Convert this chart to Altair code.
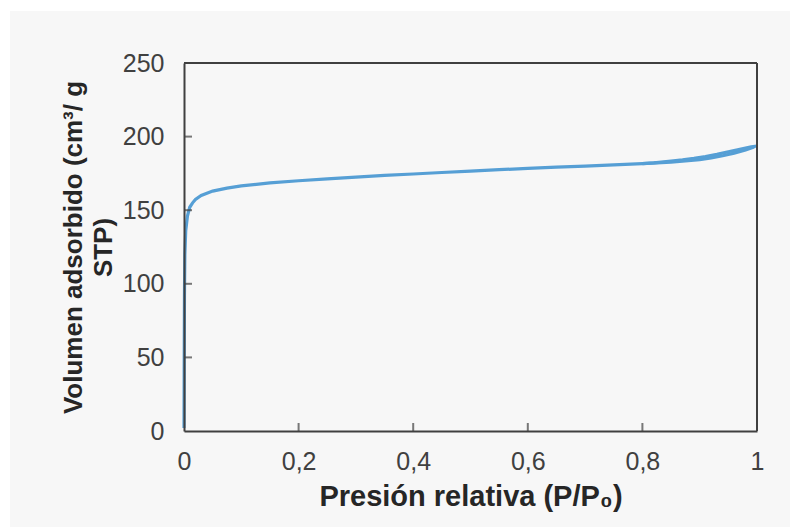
import altair as alt
import pandas as pd

# Adsorption branch (P/P0, volume)
ads_p = [0.0, 0.0003, 0.0008, 0.0015, 0.003, 0.006, 0.01, 0.015, 0.02, 0.03, 0.05,
         0.075, 0.1, 0.15, 0.2, 0.25, 0.3, 0.35, 0.4, 0.45, 0.5, 0.55, 0.6, 0.65,
         0.7, 0.75, 0.8, 0.85, 0.88, 0.9, 0.92, 0.94, 0.96, 0.98, 0.995]
ads_v = [2, 40, 92, 120, 136, 146, 152, 155, 157.3, 160, 163,
         165, 166.5, 168.5, 170, 171.3, 172.5, 173.6, 174.6, 175.6, 176.6, 177.5, 178.4, 179.2,
         180, 180.8, 181.7, 182.7, 183.6, 184.4, 185.5, 187, 188.8, 191, 193]
# Desorption branch
des_p = [1.0, 0.99, 0.97, 0.95, 0.93, 0.91, 0.89, 0.87, 0.85, 0.82, 0.8]
des_v = [193.6, 193.0, 191.4, 189.7, 187.9, 186.4, 185.2, 184.2, 183.4, 182.2, 181.7]

x_values = [0, 0.2, 0.4, 0.6, 0.8, 1]
y_values = [0, 50, 100, 150, 200, 250]
x_inner_ticks = [0.2, 0.4, 0.6, 0.8]
y_inner_ticks = [50, 100, 150, 200]

rows = []
for i, (p, v) in enumerate(zip(ads_p, ads_v)):
    rows.append({"p": p, "v": v, "rama": "Adsorción", "orden": i})
for i, (p, v) in enumerate(zip(des_p, des_v)):
    rows.append({"p": p, "v": v, "rama": "Desorción", "orden": i})
df = pd.DataFrame(rows)

W, H = 573, 368
PAD_L, PAD_T, PAD_R, PAD_B = 184, 63, 33, 96
FONT = "Liberation Sans"
AX = "#404040"

xscale = alt.Scale(domain=[0, 1], nice=False, zero=False)
yscale = alt.Scale(domain=[0, 250], nice=False)

xaxis = alt.Axis(
    values=x_values, format=".1~f", labelExpr="replace(datum.label, '.', ',')",
    domainColor=AX, domainWidth=2, ticks=False, grid=False,
    labelFont=FONT, labelFontSize=25, labelColor=AX, labelPadding=18,
    labelFlush=False, labelOverlap=False, labelBound=False,
    title="Presión relativa (P/P₀)", titleFont=FONT, titleFontSize=29,
    titleFontWeight="bold", titleColor="#262626", titlePadding=8, zindex=1,
)
yaxis = alt.Axis(
    values=y_values, domainColor=AX, domainWidth=2, ticks=False, grid=False,
    labelFont=FONT, labelFontSize=25, labelColor=AX, labelPadding=20,
    labelOverlap=False, labelBound=False, labelFlush=False,
    title=["Volumen adsorbido (cm³/ g", "STP)"], titleFont=FONT, titleFontSize=26,
    titleFontWeight="bold", titleColor="#262626", titlePadding=6, titleLineHeight=30,
    zindex=1,
)

bg = alt.Chart(pd.DataFrame({"a": [0]})).mark_rect(color="#f7f7f7").encode(
    x=alt.value(-(PAD_L - 10)), x2=alt.value(W + PAD_R),
    y=alt.value(-(PAD_T - 11)), y2=alt.value(H + PAD_B),
)

line = alt.Chart(df).mark_line(color="#569FD5", strokeWidth=3.2, clip=False).encode(
    x=alt.X("p:Q", scale=xscale, axis=xaxis),
    y=alt.Y("v:Q", scale=yscale, axis=yaxis),
    detail="rama:N",
    order="orden:Q",
)

xt = alt.Chart(pd.DataFrame({"p": x_inner_ticks})).mark_tick(
    orient="vertical", size=8, thickness=2, color=AX
).encode(x=alt.X("p:Q", scale=xscale, axis=xaxis), y=alt.value(H - 4))

yt = alt.Chart(pd.DataFrame({"v": y_inner_ticks})).mark_tick(
    orient="horizontal", size=8, thickness=2, color=AX
).encode(y=alt.Y("v:Q", scale=yscale, axis=yaxis), x=alt.value(4))

# frame on top and right of the plot area
frame_top = alt.Chart(pd.DataFrame({"a": [0]})).mark_rule(color=AX, strokeWidth=2).encode(
    x=alt.value(0), x2=alt.value(W), y=alt.value(0)
)
frame_right = alt.Chart(pd.DataFrame({"a": [0]})).mark_rule(color=AX, strokeWidth=2).encode(
    x=alt.value(W), y=alt.value(0), y2=alt.value(H)
)

chart = alt.layer(bg, line, xt, yt, frame_top, frame_right).properties(
    width=W, height=H,
    autosize=alt.AutoSizeParams(type="none"),
    padding={"left": PAD_L, "top": PAD_T, "right": PAD_R, "bottom": PAD_B},
    background="white",
).configure_view(stroke=None)

chart.save("out.html", embed_options={"renderer": "svg", "actions": False})
